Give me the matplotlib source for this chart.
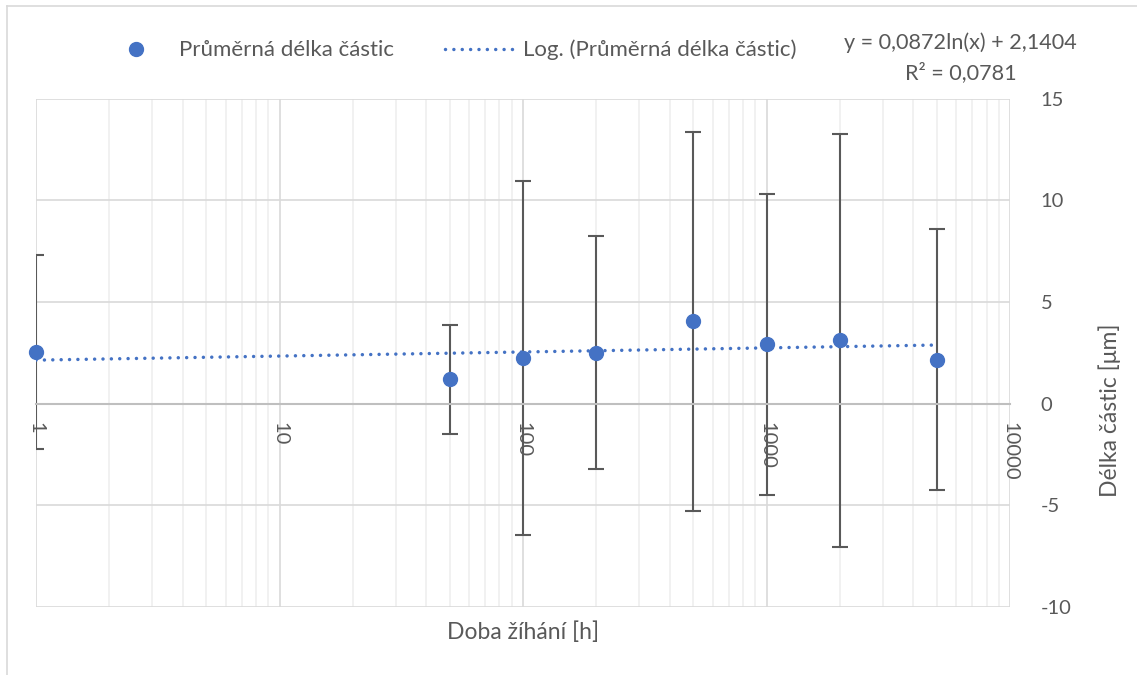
import matplotlib.pyplot as plt
import numpy as np
from matplotlib.ticker import LogLocator, FixedLocator, NullFormatter

plt.rcParams['font.family'] = ['Lato', 'DejaVu Sans']

# annealing time [h] and mean particle length [um] with its standard deviation
doba = [1, 50, 100, 200, 500, 1000, 2000, 5000]
delka = [2.52, 1.19, 2.25, 2.51, 4.05, 2.93, 3.11, 2.17]
odchylka = [4.77, 2.70, 8.70, 5.72, 9.33, 7.40, 10.17, 6.43]

# logarithmic trend from the fitted equation
trend_a = 0.0872
trend_b = 2.1404

x_ticks = [1, 10, 100, 1000, 10000]
y_ticks = [-10, -5, 0, 5, 10, 15]

text_col = '#595959'
blue = '#4472C4'

fig = plt.figure(figsize=(11.37, 6.75), dpi=100)
ax = fig.add_axes([0.0317, 0.1007, 0.8567, 0.7532])

ax.set_xscale('log')
ax.set_xlim(1, 10000)
ax.set_ylim(-10, 15)

# horizontal axis crosses at y = 0 (must be set before styling the ticks)
for s in ['top', 'left', 'right']:
    ax.spines[s].set_visible(False)
ax.spines['bottom'].set_position(('data', 0))
ax.spines['bottom'].set_color('#bfbfbf')
ax.spines['bottom'].set_linewidth(1.5)

ax.xaxis.set_major_locator(FixedLocator(x_ticks))
ax.xaxis.set_minor_locator(LogLocator(base=10, subs=np.arange(2, 10)))
ax.xaxis.set_minor_formatter(NullFormatter())
ax.set_xticklabels([str(t) for t in x_ticks], rotation=-90, color=text_col,
                   fontsize=14.5, va='top', ha='center')
ax.yaxis.tick_right()
ax.set_yticks(y_ticks)
ax.set_yticklabels([str(t) for t in y_ticks], color=text_col, fontsize=14.5)

ax.grid(True, which='major', color='#d9d9d9', lw=1.2)
ax.grid(True, which='minor', axis='x', color='#efefef', lw=1.2)
ax.set_axisbelow(True)

ax.tick_params(axis='both', which='both', length=0)
ax.tick_params(axis='x', pad=13)
ax.tick_params(axis='y', pad=22)

# trendline
xt = np.logspace(0, np.log10(doba[-1]), 200)
tl, = ax.plot(xt, trend_a * np.log(xt) + trend_b, color=blue, lw=2.5,
              ls=(0, (0.01, 2.4)), dash_capstyle='round', zorder=3,
              label='Log. (Průměrná délka částic)')

ax.errorbar(doba, delka, yerr=odchylka, fmt='none', ecolor='#595959',
            elinewidth=1.5, capsize=5.5, capthick=1.5, zorder=2)
pts, = ax.plot(doba, delka, 'o', color=blue, ms=10, zorder=4, clip_on=False,
               label='Průměrná délka částic')

ax.set_xlabel('Doba žíhání [h]', fontsize=16.5, color=text_col)
ax.xaxis.set_label_coords(0.5, -0.028)
ax.set_ylabel('Délka částic [μm]', fontsize=16.5, color=text_col)
ax.yaxis.set_label_position('right')
ax.yaxis.set_label_coords(1.091, 0.3875)

fig.legend(handles=[pts, tl], loc='center left', bbox_to_anchor=(101 / 1137, 1 - 50 / 675),
           ncol=2, frameon=False, fontsize=16, labelcolor=text_col,
           handlelength=3.15, columnspacing=2.3, handletextpad=0.36,
           borderpad=0, borderaxespad=0)

fig.text(960 / 1137, 1 - 43 / 675, 'y = 0,0872ln(x) + 2,1404', fontsize=15.6,
         color=text_col, ha='center', va='center')
fig.text(961 / 1137, 1 - 73 / 675, 'R² = 0,0781', fontsize=15.6,
         color=text_col, ha='center', va='center')

# outer chart frame
fig.add_artist(plt.Line2D([0.0062, 0.0062], [0, 0.991], color='#d9d9d9', lw=1.2))
fig.add_artist(plt.Line2D([0.0062, 1], [0.991, 0.991], color='#d9d9d9', lw=1.2))

fig.savefig('out.png', dpi=100)
